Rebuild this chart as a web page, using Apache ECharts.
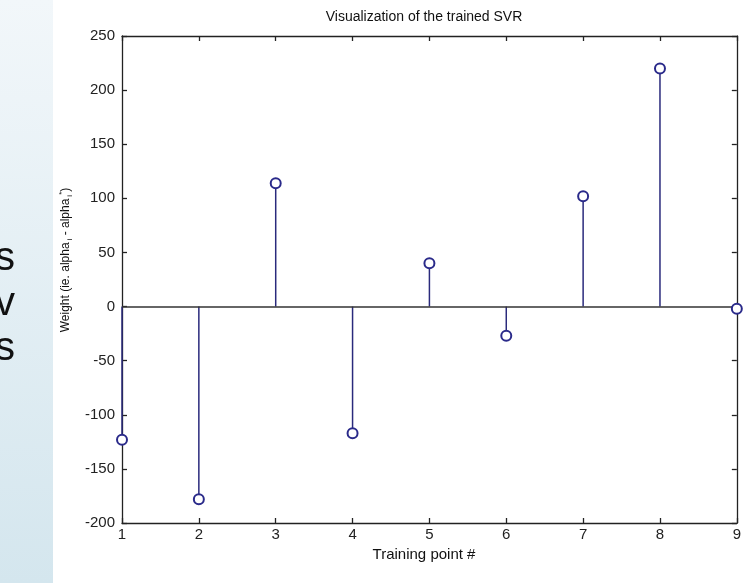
<!DOCTYPE html>
<html><head><meta charset="utf-8">
<script src="https://cdn.jsdelivr.net/npm/echarts@6/dist/echarts.min.js"></script>
<style>html,body{margin:0;padding:0;background:#fff}#c{width:744px;height:583px}</style>
</head><body><div id="c"></div>
<script>
const trainingPoints = [1, 2, 3, 4, 5, 6, 7, 8, 9];
const weights = [-123, -178, 114, -117, 40, -27, 102, 220, -2];
const yTicks = [-200, -150, -100, -50, 0, 50, 100, 150, 200, 250];
const titleText = 'Visualization of the trained SVR';
const xLabel = 'Training point #';
const sideLetters = ['s', 'v', 's'];

const pts = trainingPoints.map((x, i) => [x, weights[i]]);
const font = '"Liberation Sans", Arial, sans-serif';
const axisCommon = {
  type: 'value', min: 1, max: 9, interval: 1,
  axisLine: {show: true, onZero: false, lineStyle: {color: '#222', width: 1.3}},
  axisTick: {show: true, inside: true, length: 5, lineStyle: {color: '#222', width: 1.3}},
  splitLine: {show: false}
};
const letterStyle = (t) => ({text: t, fontSize: 40, fontFamily: 'Liberation Sans, Arial, sans-serif', fill: '#111', align: 'left', verticalAlign: 'middle'});
const chart = echarts.init(document.getElementById('c'));
chart.setOption({
  animation: false,
  backgroundColor: '#fff',
  grid: {left: 122, right: 6, top: 36, bottom: 60, containLabel: false},
  xAxis: [
    Object.assign({}, axisCommon, {position: 'bottom',
      axisLabel: {show: true, color: '#222', fontSize: 15, fontFamily: font, margin: 4}}),
    Object.assign({}, axisCommon, {position: 'top', axisLabel: {show: false}})
  ],
  yAxis: [
    Object.assign({}, axisCommon, {min: yTicks[0], max: yTicks[yTicks.length - 1], interval: 50, position: 'left',
      axisLabel: {show: true, color: '#222', fontSize: 15, fontFamily: font, margin: 7}}),
    Object.assign({}, axisCommon, {min: yTicks[0], max: yTicks[yTicks.length - 1], interval: 50, position: 'right',
      axisLabel: {show: false}})
  ],
  graphic: [
    {type: 'rect', left: 0, top: 0, shape: {width: 53, height: 583}, z: -1,
      style: {fill: new echarts.graphic.LinearGradient(0, 0, 0, 1, [
        {offset: 0, color: '#f2f7fa'}, {offset: 1, color: '#d4e6ee'}])}},
    {type: 'text', x: -5, y: 259, style: letterStyle(sideLetters[0])},
    {type: 'text', x: -5, y: 304, style: letterStyle(sideLetters[1])},
    {type: 'text', x: -5, y: 349, style: letterStyle(sideLetters[2])},
    {type: 'text', x: 424, y: 17, style: {text: titleText, fontSize: 14, fontFamily: font, fill: '#111', align: 'center', verticalAlign: 'middle'}},
    {type: 'text', x: 424, y: 555, style: {text: xLabel, fontSize: 15, fontFamily: font, fill: '#111', align: 'center', verticalAlign: 'middle'}},
    {type: 'text', x: 66, y: 260, rotation: Math.PI / 2,
      style: {text: 'Weight (ie. alpha{s|i} - alpha{s|i}{p|*})', rich: {s: {fontSize: 8, fontFamily: font, padding: [8, 0, 0, 2]}, p: {fontSize: 8, fontFamily: font, padding: [0, 0, 8, 0]}},
        fontSize: 12, fontFamily: font, fill: '#111', align: 'center', verticalAlign: 'middle'}}
  ],
  series: [
    {type: 'bar', xAxisIndex: 0, yAxisIndex: 0, data: pts, barWidth: 1.5,
      itemStyle: {color: '#2a2a7c'}, z: 2,
      markLine: {silent: true, symbol: 'none', label: {show: false},
        lineStyle: {color: '#333', width: 1.5, type: 'solid'}, data: [{yAxis: 0}]}},
    {type: 'scatter', xAxisIndex: 0, yAxisIndex: 0, data: pts, symbol: 'emptyCircle', symbolSize: 10,
      clip: false, itemStyle: {color: '#2a2a8a', borderColor: '#2a2a8a', borderWidth: 1.3, opacity: 1}, z: 5}
  ]
});
</script></body></html>
